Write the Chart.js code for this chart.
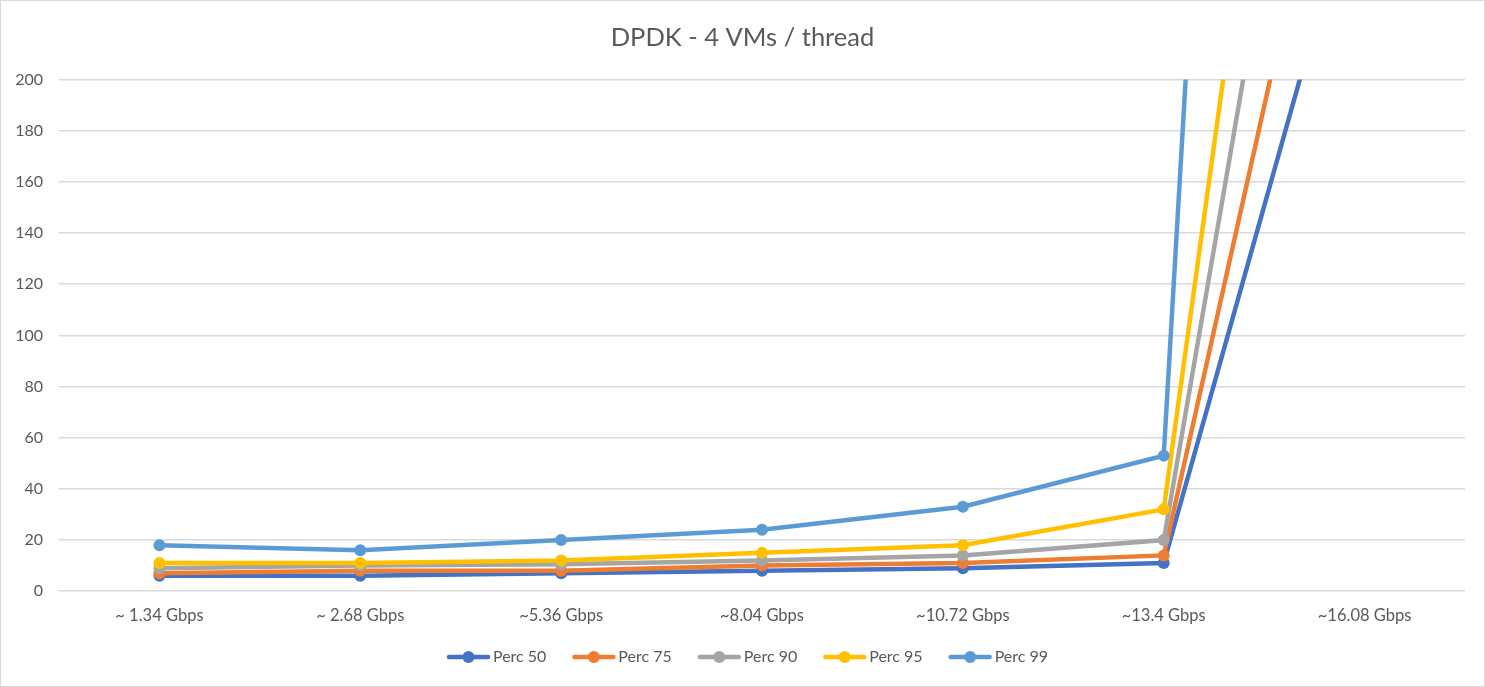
<!DOCTYPE html>
<html>
<head>
<meta charset="utf-8">
<script src="https://cdn.jsdelivr.net/npm/chart.js"></script>
<style>
  html, body { margin: 0; padding: 0; background: #fff; }
  #wrap { position: relative; width: 1483px; height: 685px; border: 1px solid #d9d9d9; }
</style>
</head>
<body>
<div id="wrap"><canvas id="chart" width="1483" height="685"></canvas></div>
<script>
// Categories (throughput)
var categories = ['~ 1.34 Gbps', '~ 2.68 Gbps', '~5.36 Gbps', '~8.04 Gbps', '~10.72 Gbps', '~13.4 Gbps', '~16.08 Gbps'];

// Latency percentiles (last point lies far above the 200 cap)
var perc50 = [6, 6, 7, 8, 9, 11, 290];
var perc75 = [7, 8, 8, 10, 11, 14, 365];
var perc90 = [9, 10, 10.5, 12, 14, 20, 475];
var perc95 = [11, 11, 12, 15, 18, 32, 600];
var perc99 = [18, 16, 20, 24, 33, 53, 1400];

var seriesNames = ['Perc 50', 'Perc 75', 'Perc 90', 'Perc 95', 'Perc 99'];
var seriesColors = ['#4472C4', '#ED7D31', '#A5A5A5', '#FFC000', '#5B9BD5'];
var seriesData = [perc50, perc75, perc90, perc95, perc99];

var fontFamily = 'Lato, "Open Sans", sans-serif';
var textColor = '#595959';

// Line-with-dot legend marker; drawn in the right part of a wider canvas
// so the gap before the marker is larger than the gap after it
var makeMarker = function(color) {
  var c = document.createElement('canvas');
  c.width = 64; c.height = 14;
  var g = c.getContext('2d');
  g.strokeStyle = color;
  g.lineWidth = 4.5;
  g.lineCap = 'round';
  g.beginPath();
  g.moveTo(20, 7);
  g.lineTo(59, 7);
  g.stroke();
  g.fillStyle = color;
  g.beginPath();
  g.arc(39.5, 7, 6, 0, Math.PI * 2);
  g.fill();
  return c;
};

var datasets = seriesData.map(function(values, i) {
  return {
    label: seriesNames[i],
    data: values,
    borderColor: seriesColors[i],
    backgroundColor: seriesColors[i],
    borderWidth: 4.5,
    pointRadius: 6,
    pointHoverRadius: 6,
    pointBorderWidth: 0,
    tension: 0,
    order: seriesNames.length - i,
    marker: makeMarker(seriesColors[i])
  };
});

new Chart(document.getElementById('chart'), {
  type: 'line',
  data: { labels: categories, datasets: datasets },
  options: {
    responsive: false,
    animation: false,
    layout: { padding: { left: 0, right: 0, top: 4, bottom: 11 } },
    plugins: {
      title: {
        display: true,
        text: 'DPDK - 4 VMs / thread',
        color: textColor,
        font: { family: fontFamily, size: 25.5, weight: 'normal' },
        padding: { top: 17, bottom: 27 }
      },
      legend: {
        position: 'bottom',
        labels: {
          usePointStyle: true,
          pointStyleWidth: 48,
          boxHeight: 14,
          color: textColor,
          font: { family: fontFamily, size: 16 },
          padding: 16,
          generateLabels: function(chart) {
            return chart.data.datasets.map(function(ds, i) {
              return {
                text: ds.label,
                pointStyle: ds.marker,
                fillStyle: ds.borderColor,
                strokeStyle: ds.borderColor,
                lineWidth: 0,
                fontColor: textColor,
                hidden: !chart.isDatasetVisible(i),
                datasetIndex: i
              };
            });
          }
        }
      },
      tooltip: { enabled: false }
    },
    scales: {
      x: {
        offset: true,
        grid: { display: false },
        border: { display: false },
        ticks: {
          color: textColor,
          font: { family: fontFamily, size: 16.5 },
          maxRotation: 0,
          padding: 7
        }
      },
      y: {
        min: 0,
        max: 200,
        border: { display: false },
        grid: { color: '#d9d9d9', lineWidth: 1.5, drawTicks: false },
        ticks: {
          stepSize: 20,
          color: textColor,
          font: { family: fontFamily, size: 16 },
          padding: 16
        },
        afterFit: function(scale) { scale.width = 58; }
      },
      // empty right axis, only keeps a margin right of the plot
      yRight: {
        position: 'right',
        grid: { display: false },
        border: { display: false },
        ticks: { display: false },
        afterFit: function(scale) { scale.width = 19; }
      }
    }
  }
});
</script>
</body>
</html>
